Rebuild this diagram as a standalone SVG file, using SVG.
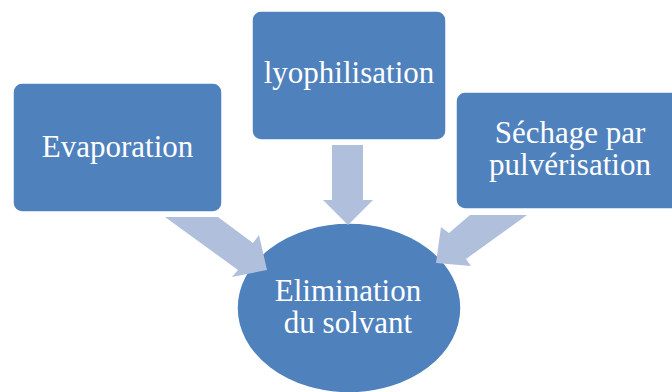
<svg xmlns="http://www.w3.org/2000/svg" width="672" height="392" viewBox="0 0 672 392">
<style>
.box{fill:#4F81BD;stroke:#ffffff;stroke-width:1.5}
.arr{fill:#B0BFDC}
text{font-family:'Liberation Serif','DejaVu Serif',serif;font-size:31px;fill:#ffffff;text-anchor:middle}
</style>
<rect width="672" height="392" fill="#ffffff"/>
<g id="n-elim">
<ellipse class="box" cx="349" cy="308" rx="112" ry="85"/>
<text font-family="Liberation Serif, serif" x="348" y="301">Elimination</text>
<text font-family="Liberation Serif, serif" x="348" y="333">du solvant</text>
</g>
<g id="connectors">
<polygon class="arr" points="165,217 218,217 253,243 259,235 267,270 232,277 238,270"/>
<polygon class="arr" points="332,145 363,145 363,200 373,200 348,225 323,200 332,200"/>
<polygon class="arr" points="470,215 527,215 466,259 471,266 436,263 441,227 449,233"/>
</g>
<g id="n-evap">
<rect class="box" x="13" y="83" width="209" height="129" rx="9"/>
<text font-family="Liberation Serif, serif" x="117.5" y="157">Evaporation</text>
</g>
<g id="n-lyo">
<rect class="box" x="252" y="11" width="194" height="129" rx="9"/>
<text font-family="Liberation Serif, serif" x="349" y="83">lyophilisation</text>
</g>
<g id="n-sech">
<rect class="box" x="456" y="92" width="228" height="117" rx="9"/>
<text font-family="Liberation Serif, serif" x="570" y="143">Séchage par</text>
<text font-family="Liberation Serif, serif" x="570" y="175">pulvérisation</text>
</g>
</svg>
